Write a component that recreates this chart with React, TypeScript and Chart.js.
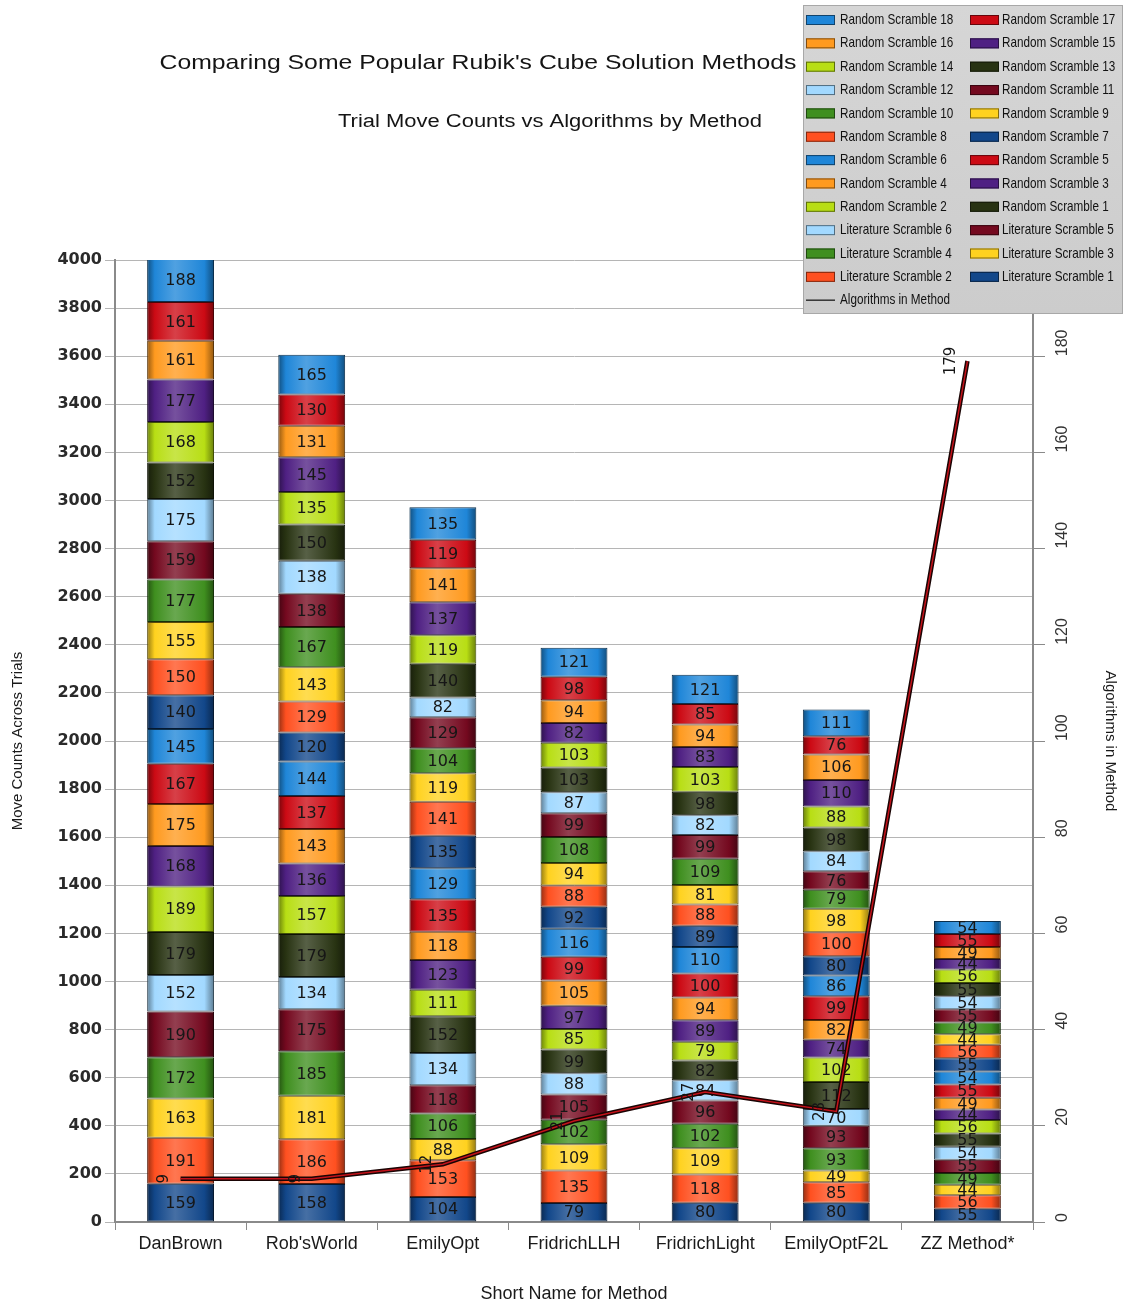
import React, { useEffect, useRef } from "react";
import { Chart, registerables } from "chart.js";

Chart.register(...registerables);

// ---------- DATA ----------
const methods = ["DanBrown", "Rob'sWorld", "EmilyOpt", "FridrichLLH", "FridrichLight", "EmilyOptF2L", "ZZ Method*"];

// stack order, bottom to top
const seriesNames = [
  "Literature Scramble 1", "Literature Scramble 2", "Literature Scramble 3",
  "Literature Scramble 4", "Literature Scramble 5", "Literature Scramble 6",
  "Random Scramble 1", "Random Scramble 2", "Random Scramble 3",
  "Random Scramble 4", "Random Scramble 5", "Random Scramble 6",
  "Random Scramble 7", "Random Scramble 8", "Random Scramble 9",
  "Random Scramble 10", "Random Scramble 11", "Random Scramble 12",
  "Random Scramble 13", "Random Scramble 14", "Random Scramble 15",
  "Random Scramble 16", "Random Scramble 17", "Random Scramble 18",
];

// move counts per method, in the same order as seriesNames
const danBrown = [159, 191, 163, 172, 190, 152, 179, 189, 168, 175, 167, 145, 140, 150, 155, 177, 159, 175, 152, 168, 177, 161, 161, 188];
const robsWorld = [158, 186, 181, 185, 175, 134, 179, 157, 136, 143, 137, 144, 120, 129, 143, 167, 138, 138, 150, 135, 145, 131, 130, 165];
const emilyOpt = [104, 153, 88, 106, 118, 134, 152, 111, 123, 118, 135, 129, 135, 141, 119, 104, 129, 82, 140, 119, 137, 141, 119, 135];
const fridrichLLH = [79, 135, 109, 102, 105, 88, 99, 85, 97, 105, 99, 116, 92, 88, 94, 108, 99, 87, 103, 103, 82, 94, 98, 121];
const fridrichLight = [80, 118, 109, 102, 96, 84, 82, 79, 89, 94, 100, 110, 89, 88, 81, 109, 99, 82, 98, 103, 83, 94, 85, 121];
const emilyOptF2L = [80, 85, 49, 93, 93, 70, 112, 102, 74, 82, 99, 86, 80, 100, 98, 79, 76, 84, 98, 88, 110, 106, 76, 111];
const zzMethod = [55, 56, 44, 49, 55, 54, 55, 56, 44, 49, 55, 54, 55, 56, 44, 49, 55, 54, 55, 56, 44, 49, 55, 54];

const algorithmsInMethod = [9, 9, 12, 21, 27, 23, 179];

const moveAxisMax = 4000;
const algoAxisMax = 200;
const algoTickLabels = [0, 20, 40, 60, 80, 100, 120, 140, 160, 180];

const mainTitle = "Comparing Some Popular Rubik's Cube Solution Methods";
const subTitle = "Trial Move Counts vs Algorithms by Method";
const lineName = "Algorithms in Method";

// ---------- STYLE ----------
const palette = [
  "#12478a", // navy
  "#ff5020", // red-orange
  "#ffd21f", // yellow
  "#3f8f1f", // green
  "#74091f", // maroon
  "#a2d9ff", // light blue
  "#283312", // dark olive
  "#b8de14", // yellow-green
  "#4f2083", // purple
  "#ff9a1f", // orange
  "#cc0a14", // red
  "#1f86d8", // blue
];

function hexToRgb(h: string) {
  const n = parseInt(h.slice(1), 16);
  return [(n >> 16) & 255, (n >> 8) & 255, n & 255];
}
function shade(h: string, f: number) {
  const [r, g, b] = hexToRgb(h);
  return `rgb(${Math.round(r * f)},${Math.round(g * f)},${Math.round(b * f)})`;
}
function tint(h: string, f: number) {
  const [r, g, b] = hexToRgb(h);
  return `rgb(${Math.round(r + (255 - r) * f)},${Math.round(g + (255 - g) * f)},${Math.round(b + (255 - b) * f)})`;
}

const table = [danBrown, robsWorld, emilyOpt, fridrichLLH, fridrichLight, emilyOptF2L, zzMethod];

const decorPlugin = {
  id: "decor",
  afterDatasetDraw(chart: any, args: any) {
    // after the last bar dataset has been drawn, write all segment values
    if (args.index !== 2) return;
    const ctx = chart.ctx;
    ctx.save();
    ctx.font = '16px "DejaVu Sans"';
    ctx.fillStyle = "#161616";
    ctx.textAlign = "center";
    ctx.textBaseline = "middle";
    chart.data.datasets.forEach((ds: any, di: number) => {
      if (ds.type === "line") return;
      const meta = chart.getDatasetMeta(di);
      meta.data.forEach((el: any, i: number) => {
        const v = ds.data[i];
        const yc = (el.y + el.base) / 2;
        if (yc < chart.chartArea.top) return;
        ctx.fillText(String(v), el.x, yc + 1);
      });
    });
    ctx.restore();
  },
  afterDatasetsDraw(chart: any) {
    const ctx = chart.ctx;
    const meta = chart.getDatasetMeta(0);
    ctx.save();
    ctx.font = '15px "DejaVu Sans"';
    ctx.fillStyle = "#161616";
    ctx.textAlign = "center";
    ctx.textBaseline = "middle";
    meta.data.forEach((el: any, i: number) => {
      ctx.save();
      ctx.translate(el.x - 16, el.y);
      ctx.rotate(-Math.PI / 2);
      ctx.fillText(String(algorithmsInMethod[i]), 0, 0);
      ctx.restore();
    });
    ctx.restore();
  },
  afterDraw(chart: any) {
    const ctx = chart.ctx;
    ctx.save();
    // titles
    const drawScaled = (text: string, font: string, cx: number, cy: number, targetW: number) => {
      ctx.font = font;
      const w = ctx.measureText(text).width;
      ctx.save();
      ctx.translate(cx, cy);
      ctx.scale(targetW / w, 1);
      ctx.textAlign = "center";
      ctx.textBaseline = "middle";
      ctx.fillStyle = "#141414";
      ctx.fillText(text, 0, 0);
      ctx.restore();
    };
    drawScaled(mainTitle, '21px "Liberation Sans"', 478, 63, 637);
    drawScaled(subTitle, '18px "Liberation Sans"', 550, 122, 424);

    // right axis labels
    const y1 = chart.scales.y1;
    ctx.font = '16px "Liberation Sans"';
    ctx.fillStyle = "#333";
    ctx.textAlign = "left";
    ctx.textBaseline = "middle";
    algoTickLabels.forEach((v) => {
      const py = y1.getPixelForValue(v);
      ctx.save();
      ctx.translate(1063, py);
      ctx.rotate(-Math.PI / 2);
      ctx.fillText(String(v), 0, 0);
      ctx.restore();
    });

    // legend box
    const lx = 803, ly = 5, lw = 320, lh = 309;
    const bg = ctx.createLinearGradient(0, ly, 0, ly + lh);
    bg.addColorStop(0, "#d6d6d6");
    bg.addColorStop(1, "#cccccc");
    ctx.fillStyle = bg;
    ctx.fillRect(lx, ly, lw, lh);
    ctx.strokeStyle = "#a8a8a8";
    ctx.lineWidth = 1;
    ctx.strokeRect(lx + 0.5, ly + 0.5, lw - 1, lh - 1);

    const entries = seriesNames.map((n, i) => ({ name: n, color: palette[i % 12] })).reverse();
    const rowH = 23.35;
    const colX = [806, 970];
    const textX = [840, 1002];
    ctx.textAlign = "left";
    ctx.textBaseline = "middle";
    entries.forEach((e, k) => {
      const r = Math.floor(k / 2);
      const c = k % 2;
      const cy = 20 + r * rowH;
      ctx.fillStyle = e.color;
      ctx.fillRect(colX[c], cy - 5, 29, 10);
      ctx.strokeStyle = shade(e.color, 0.5);
      ctx.strokeRect(colX[c] + 0.5, cy - 4.5, 28, 9);
      ctx.save();
      ctx.translate(textX[c], cy);
      ctx.scale(0.78, 1);
      ctx.font = '15px "Liberation Sans"';
      ctx.fillStyle = "#111";
      ctx.fillText(e.name, 0, 0);
      ctx.restore();
    });
    const ay = 20 + 12 * rowH;
    ctx.strokeStyle = "#333";
    ctx.lineWidth = 1.5;
    ctx.beginPath();
    ctx.moveTo(806, ay);
    ctx.lineTo(835, ay);
    ctx.stroke();
    ctx.save();
    ctx.translate(840, ay);
    ctx.scale(0.78, 1);
    ctx.font = '15px "Liberation Sans"';
    ctx.fillStyle = "#111";
    ctx.fillText(lineName, 0, 0);
    ctx.restore();

    ctx.restore();
  },
};

export default function App() {
  const ref = useRef<HTMLCanvasElement | null>(null);

  useEffect(() => {
    if (!ref.current) return;
    const barSets = seriesNames.map((name, si) => {
      const base = palette[si % 12];
      return {
        type: "bar" as const,
        label: name,
        data: table.map((row) => row[si]),
        yAxisID: "y",
        stack: "moves",
        order: 0,
        borderWidth: 1,
        borderColor: shade(base, 0.35),
        borderSkipped: false,
        backgroundColor: (c: any) => {
          const chart = c.chart;
          if (c.type !== "data" || !chart.chartArea || !chart.scales.x) return base;
          const cx = chart.scales.x.getPixelForValue(c.dataIndex);
          const half = 34;
          const g = chart.ctx.createLinearGradient(cx - half, 0, cx + half, 0);
          g.addColorStop(0, shade(base, 0.55));
          g.addColorStop(0.12, base);
          g.addColorStop(0.42, tint(base, 0.22));
          g.addColorStop(0.85, base);
          g.addColorStop(1, shade(base, 0.55));
          return g;
        },
        barPercentage: 0.51,
        categoryPercentage: 1,
      };
    });

    const chart = new Chart(ref.current, {
      type: "bar",
      data: {
        labels: methods,
        datasets: [
          {
            type: "line",
            label: lineName,
            data: algorithmsInMethod,
            yAxisID: "y1",
            order: -1,
            borderColor: "#1a0404",
            borderWidth: 4.5,
            pointRadius: 0,
            tension: 0,
            fill: false,
          } as any,
          {
            type: "line",
            label: lineName + " (core)",
            data: algorithmsInMethod,
            yAxisID: "y1",
            order: -2,
            borderColor: "#c4121a",
            borderWidth: 1.5,
            pointRadius: 0,
            tension: 0,
            fill: false,
          } as any,
          ...barSets,
        ],
      },
      options: {
        responsive: false,
        devicePixelRatio: 1,
        animation: false,
        layout: { padding: { top: 260, left: 0, right: 0, bottom: 0 } },
        plugins: {
          legend: { display: false },
          tooltip: { enabled: false },
          title: { display: false },
        },
        scales: {
          x: {
            stacked: true,
            offset: true,
            grid: { display: true, drawOnChartArea: false, drawTicks: true, tickLength: 8, color: "#8a8a8a", offset: true },
            border: { color: "#8a8a8a", width: 2 },
            ticks: { color: "#1a1a1a", font: { family: "Liberation Sans", size: 18 }, padding: 3, maxRotation: 0 },
            title: {
              display: true,
              text: "Short Name for Method",
              color: "#1a1a1a",
              font: { family: "Liberation Sans", size: 18 },
              padding: { top: 0, bottom: 0 },
            },
            afterFit: (s: any) => { s.height = 83; },
          },
          y: {
            stacked: true,
            position: "left",
            min: 0,
            max: moveAxisMax,
            ticks: {
              stepSize: 200,
              color: "#2a2a2a",
              font: { family: "DejaVu Sans", size: 16, weight: "bold" },
              padding: 3,
              callback: (v: any) => String(v),
            },
            grid: { color: "#b5b5b5", lineWidth: 1, tickLength: 10 },
            border: { color: "#8a8a8a", width: 2 },
            title: {
              display: true,
              text: "Move Counts Across Trials",
              color: "#1a1a1a",
              font: { family: "Liberation Sans", size: 15 },
              padding: { top: 9, bottom: 0 },
            },
            afterFit: (s: any) => { s.width = 115; },
          },
          y1: {
            position: "right",
            min: 0,
            max: algoAxisMax,
            ticks: { stepSize: 20, display: false },
            grid: { drawOnChartArea: false, color: "#8a8a8a", tickLength: 12 },
            border: { color: "#8a8a8a", width: 2 },
            title: {
              display: true,
              text: "Algorithms in Method",
              color: "#1a1a1a",
              font: { family: "Liberation Sans", size: 15 },
              padding: { top: 4, bottom: 0 },
            },
            afterFit: (s: any) => { s.width = 90; },
          },
        },
      } as any,
      plugins: [decorPlugin],
    });
    return () => chart.destroy();
  }, []);

  return (
    <div style={{ position: "absolute", left: 0, top: 0, width: 1123, height: 1305, background: "#ffffff" }}>
      <canvas ref={ref} width={1123} height={1305} style={{ display: "block" }} />
    </div>
  );
}
